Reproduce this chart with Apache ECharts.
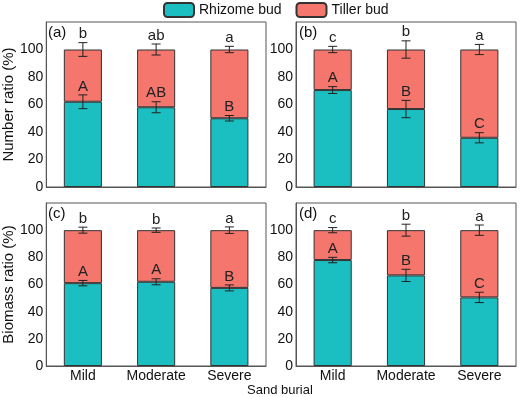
<!DOCTYPE html>
<html>
<head>
<meta charset="utf-8">
<title>Bud ratio under sand burial</title>
<script src="https://cdn.jsdelivr.net/npm/echarts@6/dist/echarts.min.js"></script>
<style>
  html, body { margin: 0; padding: 0; background: #fff; }
  #main { width: 520px; height: 397px; }
</style>
</head>
<body>
<div id="main"></div>
<script>
// categories and tick labels
const categories = ['Mild', 'Moderate', 'Severe'];
const yTicks = [0, 20, 40, 60, 80, 100];

// (a) number ratio, first species
const rhizomeA = [62, 58, 50];
const tillerA = [38, 42, 50];
const rhizomeErrA = [5, 4, 2];
const tillerErrA = [5, 4, 2.3];
const upperA = ['b', 'ab', 'a'];
const lowerA = ['A', 'AB', 'B'];

// (b) number ratio, second species
const rhizomeB = [70.5, 56.7, 35.8];
const tillerB = [29.5, 43.3, 64.2];
const rhizomeErrB = [2.5, 6.3, 3.7];
const tillerErrB = [2.3, 6.3, 3.7];
const upperB = ['c', 'b', 'a'];
const lowerB = ['A', 'B', 'C'];

// (c) biomass ratio, first species
const rhizomeC = [61, 62, 57.5];
const tillerC = [39, 38, 42.5];
const rhizomeErrC = [2, 2.2, 2.2];
const tillerErrC = [2.2, 1.6, 2.4];
const upperC = ['b', 'b', 'a'];
const lowerC = ['A', 'A', 'B'];

// (d) biomass ratio, second species
const rhizomeD = [78, 66.7, 50.5];
const tillerD = [22, 33.3, 49.5];
const rhizomeErrD = [2, 4.5, 3.8];
const tillerErrD = [1.9, 4.4, 3.8];
const upperD = ['c', 'b', 'a'];
const lowerD = ['A', 'B', 'C'];

const panels = [
  { tag: '(a)', rh: rhizomeA, ti: tillerA, rhErr: rhizomeErrA, tiErr: tillerErrA, up: upperA, low: lowerA, yName: 'Number ratio (%)' },
  { tag: '(b)', rh: rhizomeB, ti: tillerB, rhErr: rhizomeErrB, tiErr: tillerErrB, up: upperB, low: lowerB, yName: '' },
  { tag: '(c)', rh: rhizomeC, ti: tillerC, rhErr: rhizomeErrC, tiErr: tillerErrC, up: upperC, low: lowerC, yName: 'Biomass ratio (%)' },
  { tag: '(d)', rh: rhizomeD, ti: tillerD, rhErr: rhizomeErrD, tiErr: tillerErrD, up: upperD, low: lowerD, yName: '' }
];

const TEAL = '#1cbfc1';
const SALMON = '#f5766d';
const EDGE = '#333';
const FONT = 'Liberation Sans, Arial, sans-serif';

const grids = [
  { left: 45, width: 221, top: 22, height: 165 },
  { left: 296, width: 220, top: 22, height: 165 },
  { left: 45, width: 221, top: 203, height: 163 },
  { left: 296, width: 220, top: 203, height: 163 }
];

// error bar + significance letter
function errorSeries(idx, centers, errs, letters) {
  return {
    type: 'custom',
    xAxisIndex: idx,
    yAxisIndex: idx,
    z: 10,
    silent: true,
    data: centers.map((c, i) => [i, c, errs[i]]),
    renderItem: function (params, api) {
      const x = api.value(0), y = api.value(1), e = api.value(2);
      const top = api.coord([x, y + e]);
      const bot = api.coord([x, y - e]);
      const hw = 4.5;
      const style = { stroke: '#222', lineWidth: 1 };
      return {
        type: 'group',
        children: [
          { type: 'line', shape: { x1: top[0], y1: top[1], x2: bot[0], y2: bot[1] }, style: style },
          { type: 'line', shape: { x1: top[0] - hw, y1: top[1], x2: top[0] + hw, y2: top[1] }, style: style },
          { type: 'line', shape: { x1: bot[0] - hw, y1: bot[1], x2: bot[0] + hw, y2: bot[1] }, style: style },
          {
            type: 'text',
            x: top[0], y: top[1] - 1,
            style: {
              text: letters[params.dataIndex],
              fill: '#222',
              font: '15px ' + FONT,
              align: 'center',
              verticalAlign: 'bottom'
            }
          }
        ]
      };
    }
  };
}

const xAxes = [], yAxes = [], series = [], titles = [];
panels.forEach((p, i) => {
  xAxes.push({
    type: 'category',
    gridIndex: i,
    data: categories,
    axisLine: { lineStyle: { color: '#555' } },
    axisTick: { show: true, inside: true, alignWithLabel: true, length: 3, lineStyle: { color: '#555' } },
    axisLabel: { show: i >= 2, interval: 0, color: '#111', fontSize: 14, fontFamily: FONT, margin: 3 }
  });
  yAxes.push({
    type: 'value',
    gridIndex: i,
    min: 0, max: 120, interval: 20,
    splitLine: { show: false },
    axisLine: { show: true, lineStyle: { color: '#555' } },
    axisTick: { show: false },
    axisLabel: {
      color: '#111', fontSize: 14, fontFamily: FONT, margin: 3,
      formatter: v => yTicks.indexOf(v) >= 0 ? String(v) : ''
    },
    name: p.yName,
    nameLocation: 'middle',
    nameGap: 29,
    nameTextStyle: { color: '#111', fontSize: 15, fontFamily: FONT }
  });
  series.push({
    name: 'Rhizome bud', type: 'bar', stack: 's' + i,
    xAxisIndex: i, yAxisIndex: i, barWidth: '52%',
    itemStyle: { color: TEAL, borderColor: EDGE, borderWidth: 1 },
    data: p.rh
  });
  series.push({
    name: 'Tiller bud', type: 'bar', stack: 's' + i,
    xAxisIndex: i, yAxisIndex: i, barWidth: '52%',
    itemStyle: { color: SALMON, borderColor: EDGE, borderWidth: 1 },
    data: p.ti
  });
  series.push(errorSeries(i, p.rh, p.rhErr, p.low));
  series.push(errorSeries(i, p.rh.map(() => 100), p.tiErr, p.up));
  titles.push({
    text: p.tag,
    left: grids[i].left + 3,
    top: grids[i].top + 3,
    textStyle: { fontSize: 15, fontWeight: 'normal', color: '#111', fontFamily: FONT }
  });
});

titles.push({
  text: 'Sand burial',
  left: 247,
  top: 384,
  textStyle: { fontSize: 13, fontWeight: 'normal', color: '#111', fontFamily: FONT }
});

const chart = echarts.init(document.getElementById('main'));
chart.setOption({
  animation: false,
  title: titles.map(t => Object.assign({ padding: 0 }, t)),
  legend: {
    data: ['Rhizome bud', 'Tiller bud'],
    top: 2,
    left: 163,
    itemWidth: 30,
    itemHeight: 14,
    itemGap: 14,
    textStyle: { fontSize: 14, color: '#111', fontFamily: FONT },
    padding: 0
  },
  grid: grids.map(g => Object.assign({ show: true, borderColor: '#555', borderWidth: 1, containLabel: false }, g)),
  xAxis: xAxes,
  yAxis: yAxes,
  series: series
});
</script>
</body>
</html>
